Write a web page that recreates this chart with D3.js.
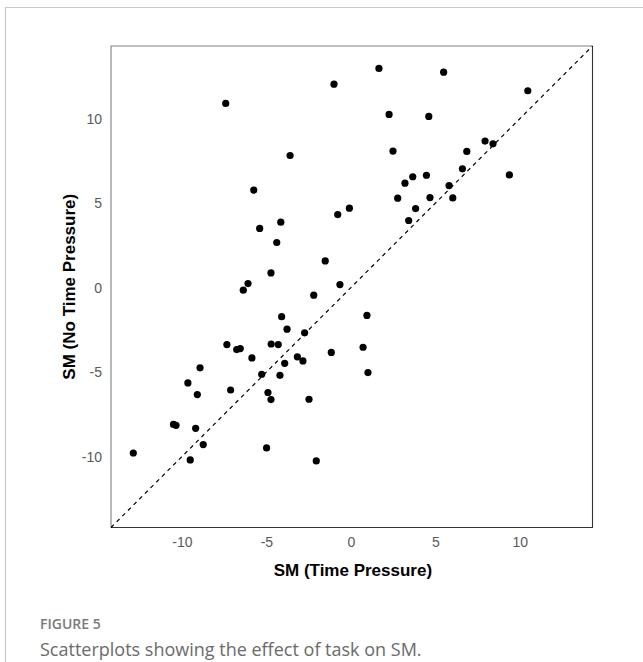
<!DOCTYPE html>
<html>
<head>
<meta charset="utf-8">
<script src="https://cdn.jsdelivr.net/npm/d3@7"></script>
<style>
  body { margin: 0; background: #fff; }
</style>
</head>
<body>
<div id="scatter"></div>
<script>
// 1: DATA
const timePressure = [
  -7.41, -5.75, -5.40, -4.39, -4.73, -6.09, -6.37, -1.00, -3.60, -4.15,
  -1.52, -0.78, -0.65, 1.66, 2.26, 4.61, 2.49, 3.20, 3.66, 4.47,
  2.77, 4.68, 3.83, 3.42, -0.09, 5.49, 10.47, 7.94, 8.41, 6.86,
  6.60, 9.38, 5.81, 6.03, -7.34, -6.76, -6.55, -4.72, -5.86, -8.93,
  -5.28, -9.65, -7.12, -9.09, -4.91, -4.73, -10.50, -10.35, -9.19, -8.74,
  -12.88, -9.51, -4.99, -2.20, -4.10, 0.95, -3.78, -2.74, -4.30, 0.72,
  -3.17, -2.84, -1.16, -3.92, 1.01, -4.20, -2.48, -2.05
];
const noTimePressure = [
  10.90, 5.77, 3.50, 2.67, 0.87, 0.24, -0.15, 12.04, 7.82, 3.87,
  1.58, 4.32, 0.18, 12.97, 10.25, 10.13, 8.08, 6.18, 6.56, 6.65,
  5.29, 5.33, 4.68, 3.97, 4.70, 12.75, 11.65, 8.67, 8.51, 8.06,
  7.03, 6.67, 6.04, 5.31, -3.37, -3.67, -3.61, -3.34, -4.16, -4.75,
  -5.13, -5.64, -6.06, -6.33, -6.21, -6.63, -8.10, -8.15, -8.33, -9.29,
  -9.79, -10.20, -9.49, -0.45, -1.72, -1.65, -2.46, -2.68, -3.37, -3.53,
  -4.10, -4.34, -3.84, -4.48, -5.03, -5.19, -6.61, -10.26
];
const axisDomain = [-14.2, 14.3];
const tickValues = [-10, -5, 0, 5, 10];

const points = timePressure.map((v, i) => ({ tp: v, ntp: noTimePressure[i] }));

// 2: LAYOUT
const W = 643, H = 662;
const box = { left: 111, top: 46, right: 592.5, bottom: 527.5 };

const svg = d3.select("#scatter")
    .append("svg")
    .attr("width", W)
    .attr("height", H);

// page frame (top + left rule)
svg.append("path")
    .attr("d", `M5.5,${H} L5.5,7.5 L${W},7.5`)
    .attr("fill", "none")
    .attr("stroke", "#c8c8c8")
    .attr("stroke-width", 1.2);

// 3: SCALES
const x = d3.scaleLinear().domain(axisDomain).range([box.left, box.right]);
const y = d3.scaleLinear().domain(axisDomain).range([box.bottom, box.top]);

// 4: PANEL BORDER
svg.append("path")
    .attr("d", `M${box.left},${box.bottom} L${box.left},${box.top} L${box.right},${box.top}`)
    .attr("fill", "none")
    .attr("stroke", "#808080")
    .attr("stroke-width", 1.1);
svg.append("path")
    .attr("d", `M${box.left},${box.bottom} L${box.right},${box.bottom} L${box.right},${box.top}`)
    .attr("fill", "none")
    .attr("stroke", "#333")
    .attr("stroke-width", 1.1);

// identity line y = x
svg.append("line")
    .attr("x1", x(axisDomain[0])).attr("y1", y(axisDomain[0]))
    .attr("x2", x(axisDomain[1])).attr("y2", y(axisDomain[1]))
    .attr("stroke", "#000")
    .attr("stroke-width", 1.2)
    .attr("stroke-dasharray", "4,4");

// 5: POINTS
svg.selectAll("circle.pt")
    .data(points)
    .enter()
    .append("circle")
    .attr("class", "pt")
    .attr("cx", d => x(d.tp))
    .attr("cy", d => y(d.ntp))
    .attr("r", 3.6)
    .attr("fill", "#000");

// 6: AXES (plain hyphen minus, like the original)
const fmt = d => String(d);
const xAxis = svg.append("g")
    .attr("transform", `translate(0,${box.bottom})`)
    .call(d3.axisBottom(x).tickValues(tickValues).tickFormat(fmt).tickSize(0).tickPadding(10));
const yAxis = svg.append("g")
    .attr("transform", `translate(${box.left},0)`)
    .call(d3.axisLeft(y).tickValues(tickValues).tickFormat(fmt).tickSize(0).tickPadding(9));

[xAxis, yAxis].forEach(g => {
    g.select(".domain").remove();
    g.attr("font-family", "'Liberation Sans', Arial, sans-serif")
        .attr("font-size", 14);
    g.selectAll("text").attr("fill", "#5a5a5a");
});

// 7: LABELS
svg.append("text")
    .attr("x", x(0) + 2)
    .attr("y", 576)
    .attr("text-anchor", "middle")
    .style("font-family", "'Liberation Sans', Arial, sans-serif")
    .style("font-size", "17px")
    .style("font-weight", "bold")
    .text("SM (Time Pressure)");

svg.append("text")
    .attr("transform", `translate(75,${(box.top + box.bottom) / 2}) rotate(-90)`)
    .attr("text-anchor", "middle")
    .style("font-family", "'Liberation Sans', Arial, sans-serif")
    .style("font-size", "17px")
    .style("font-weight", "bold")
    .text("SM (No Time Pressure)");

// caption
svg.append("text")
    .attr("x", 40)
    .attr("y", 629)
    .style("font-family", "'Open Sans', sans-serif")
    .style("font-size", "14px")
    .style("font-weight", "600")
    .attr("fill", "#7a7a7a")
    .text("FIGURE 5");

svg.append("text")
    .attr("x", 40)
    .attr("y", 656)
    .style("font-family", "'Open Sans', sans-serif")
    .style("font-size", "18px")
    .attr("fill", "#6b6b6b")
    .text("Scatterplots showing the effect of task on SM.");
</script>
</body>
</html>
